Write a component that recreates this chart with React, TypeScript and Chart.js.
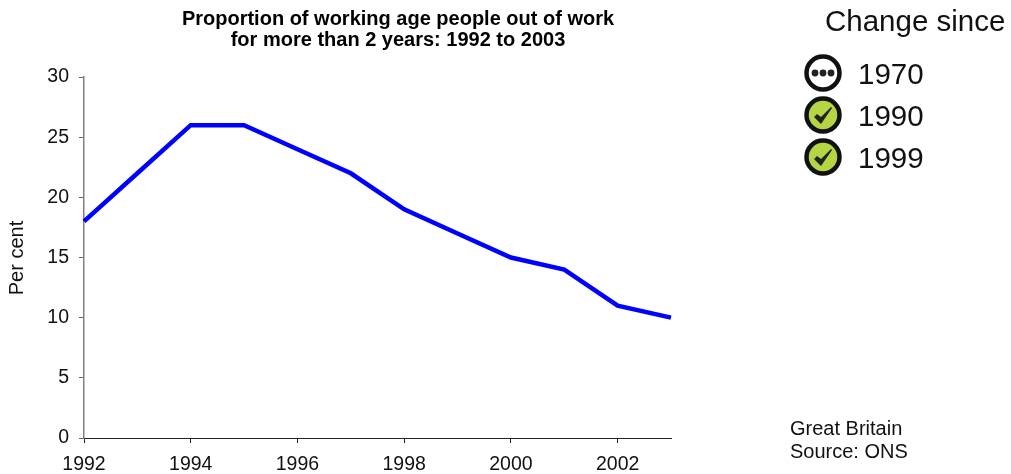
import React, { useEffect, useRef } from "react";
import { Chart, registerables } from "chart.js";

Chart.register(...registerables);

const years = [1992, 1993, 1994, 1995, 1996, 1997, 1998, 1999, 2000, 2001, 2002, 2003];
const perCent = [18, 22, 26, 26, 24, 22, 19, 17, 15, 14, 11, 10];
const titleLines = ["Proportion of working age people out of work", "for more than 2 years: 1992 to 2003"];
const legendTitle = "Change since";
const legendYears = ["1970", "1990", "1999"];
const legendKinds = ["dots", "tick", "tick"];
const notes = ["Great Britain", "Source: ONS"];
const FONT = '"Liberation Sans", Arial, sans-serif';

const decor = {
  id: "decor",
  afterDraw(chart: any) {
    const c = chart.ctx;
    c.save();
    c.fillStyle = "#000";
    c.textBaseline = "alphabetic";
    c.textAlign = "center";
    c.font = `bold 20px ${FONT}`;
    c.fillText(titleLines[0], 398, 25);
    c.fillText(titleLines[1], 398, 46);
    c.textAlign = "left";
    c.font = `29.5px ${FONT}`;
    c.fillStyle = "#111";
    c.fillText(legendTitle, 825, 31);
    const ys = [73, 115, 157];
    legendYears.forEach((t, i) => {
      c.fillStyle = "#111";
      c.fillText(t, 858, ys[i] + 11);
      const cx = 823, cy = ys[i];
      c.beginPath();
      c.arc(cx, cy, 16.5, 0, Math.PI * 2);
      c.fillStyle = legendKinds[i] === "tick" ? "#b5d544" : "#fff";
      c.fill();
      c.lineWidth = 4.5;
      c.strokeStyle = "#111";
      c.stroke();
      c.fillStyle = "#222";
      if (legendKinds[i] === "dots") {
        [-8, 0, 8].forEach((d) => {
          c.beginPath();
          c.arc(cx + d, cy, 3.4, 0, Math.PI * 2);
          c.fill();
        });
      } else {
        c.beginPath();
        c.moveTo(cx - 9, cy + 2);
        c.lineTo(cx - 6, cy - 1);
        c.lineTo(cx - 2, cy + 2);
        c.lineTo(cx + 8, cy - 8);
        c.lineTo(cx + 9, cy - 7);
        c.lineTo(cx - 2, cy + 9);
        c.closePath();
        c.fill();
      }
    });
    c.fillStyle = "#111";
    c.font = `20px ${FONT}`;
    c.fillText(notes[0], 790, 435);
    c.fillText(notes[1], 790, 458);
    c.translate(23, 258);
    c.rotate(-Math.PI / 2);
    c.textAlign = "center";
    c.fillText("Per cent", 0, 0);
    c.restore();
  },
};

export default function App() {
  const ref = useRef<HTMLCanvasElement>(null);
  useEffect(() => {
    document.body.style.margin = "0";
    document.body.style.background = "#fff";
    const chart = new Chart(ref.current!, {
      type: "line",
      data: {
        datasets: [
          {
            data: years.map((y, i) => ({ x: y, y: perCent[i] })),
            borderColor: "#0000ff",
            borderWidth: 4.5,
            pointRadius: 0,
            tension: 0,
            borderJoinStyle: "miter",
            clip: false,
          } as any,
        ],
      },
      plugins: [decor],
      options: {
        animation: false,
        responsive: false,
        layout: { padding: { left: 0, right: 340, top: 77, bottom: 0 } },
        plugins: { legend: { display: false }, title: { display: false }, tooltip: { enabled: false } },
        scales: {
          x: {
            type: "linear",
            min: 1992,
            max: 2003,
            afterFit: (s: any) => { s.height = 36; },
            ticks: {
              stepSize: 2,
              includeBounds: false,
              autoSkip: false,
              maxRotation: 0,
              color: "#111",
              padding: 10,
              font: { family: FONT, size: 19.5 },
              callback: (v: any) => String(v),
            },
            grid: { display: true, drawOnChartArea: false, drawTicks: true, tickLength: 5, color: "#222" },
            border: { display: true, color: "#222", width: 1 },
          },
          y: {
            min: 0,
            max: 30,
            afterFit: (s: any) => { s.width = 84; },
            ticks: {
              stepSize: 5,
              color: "#111",
              padding: 10,
              font: { family: FONT, size: 19.5 },
            },
            grid: { display: true, drawOnChartArea: false, drawTicks: true, tickLength: 5, color: "#666" },
            border: { display: true, color: "#808080", width: 1.5 },
          },
        },
      },
    });
    return () => chart.destroy();
  }, []);
  return <canvas ref={ref} width={1011} height={474} style={{ display: "block" }} />;
}
